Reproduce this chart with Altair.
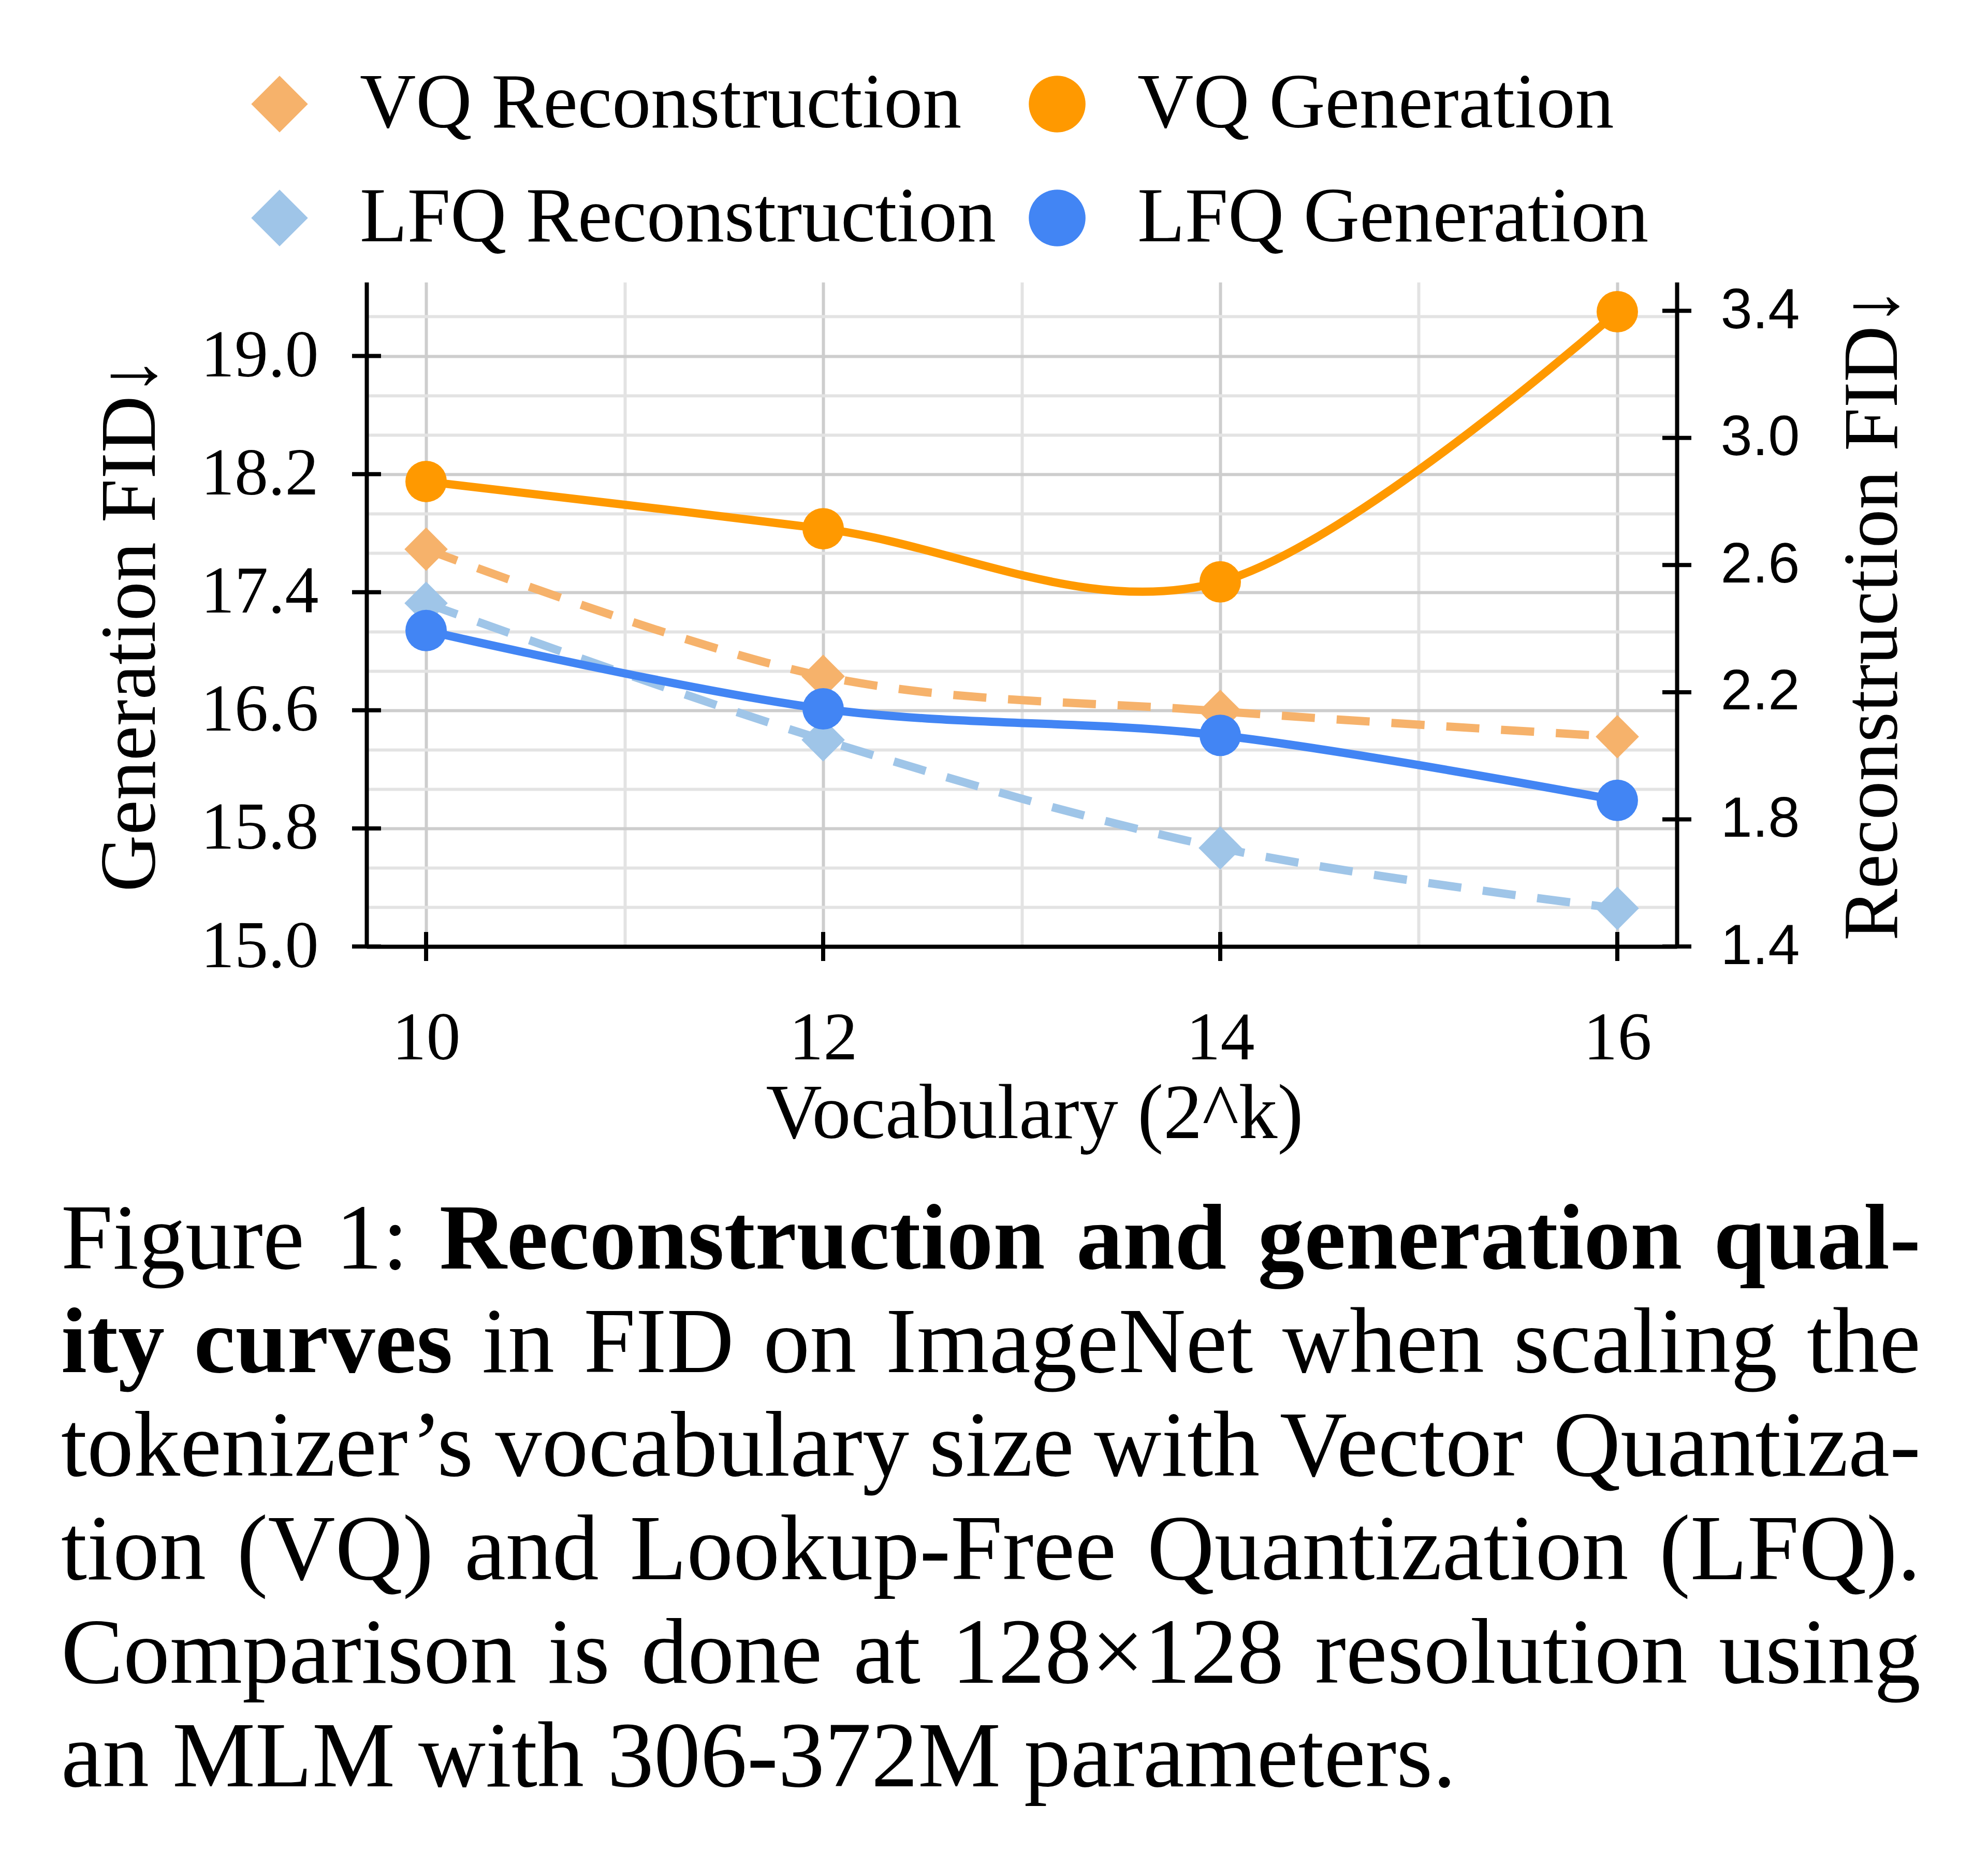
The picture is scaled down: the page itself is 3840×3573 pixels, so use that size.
import altair as alt
import pandas as pd

# ---------------- data ----------------
vocab_k = [10, 12, 14, 16]
vq_generation = [18.15, 17.83, 17.47, 19.30]
lfq_generation = [17.14, 16.61, 16.43, 15.99]
vq_reconstruction = [2.65, 2.25, 2.14, 2.06]
lfq_reconstruction = [2.48, 2.05, 1.71, 1.52]

# legend is filled column by column: first column = reconstruction entries
series_names = ["VQ Reconstruction", "LFQ Reconstruction", "VQ Generation", "LFQ Generation"]
series_colors = ["#F6B26B", "#9FC5E8", "#FF9900", "#4285F4"]
series_shapes = ["diamond", "diamond", "circle", "circle"]

x_tick_values = [10, 12, 14, 16]
x_grid_values = [10, 11, 12, 13, 14, 15, 16]
gen_tick_values = [15.0, 15.8, 16.6, 17.4, 18.2, 19.0]
gen_grid_values = [15.0, 15.267, 15.533, 15.8, 16.067, 16.333, 16.6, 16.867, 17.133,
                   17.4, 17.667, 17.933, 18.2, 18.467, 18.733, 19.0, 19.267]
rec_tick_values = [1.4, 1.8, 2.2, 2.6, 3.0, 3.4]

# caption: each line is a list of (words, weight); last line is not justified
caption_lines = [
    [("Figure 1:", "normal"), ("Reconstruction and generation qual-", "bold")],
    [("ity curves", "bold"), ("in FID on ImageNet when scaling the", "normal")],
    [("tokenizer\u2019s vocabulary size with Vector Quantiza-", "normal")],
    [("tion (VQ) and Lookup-Free Quantization (LFQ).", "normal")],
    [("Comparison is done at 128\u00d7128 resolution using", "normal")],
    [("an MLM with 306-372M parameters.", "normal")],
]

# ---------------- layout / style ----------------
SERIF = "Liberation Serif"
SANS = "Liberation Sans"
W, H = 2531, 1283
color_of = dict(zip(series_names, series_colors))

gen_df = pd.DataFrame({
    "k": vocab_k * 2,
    "value": vq_generation + lfq_generation,
    "series": ["VQ Generation"] * 4 + ["LFQ Generation"] * 4,
})
rec_df = pd.DataFrame({
    "k": vocab_k * 2,
    "value": vq_reconstruction + lfq_reconstruction,
    "series": ["VQ Reconstruction"] * 4 + ["LFQ Reconstruction"] * 4,
})

x_scale = alt.Scale(domain=[9.7, 16.3], nice=False, zero=False)
gen_scale = alt.Scale(domain=[15.0, 19.5], nice=False, zero=False)
rec_scale = alt.Scale(domain=[1.4, 3.49], nice=False, zero=False)
color_scale = alt.Scale(domain=series_names, range=series_colors)
shape_scale = alt.Scale(domain=series_names, range=series_shapes)

x_major_test = f"indexof({x_tick_values}, datum.value) >= 0"
gen_major_test = f"indexof({gen_tick_values}, datum.value) >= 0"

x_axis = alt.Axis(
    values=x_grid_values,
    labelExpr=f"{x_major_test} ? datum.label : ''",
    grid=True,
    gridColor=alt.condition(x_major_test, alt.value("#CDCDCD"), alt.value("#E3E3E3")),
    gridWidth=6,
    domainColor="black", domainWidth=8,
    ticks=True, tickSize=0,
    labelFont=SERIF, labelFontSize=132, labelColor="black", labelPadding=113,
    labelOverlap=False, labelFlush=False, labelLimit=0,
    title="Vocabulary (2^k)", titleFont=SERIF, titleFontSize=150,
    titleFontWeight="normal", titleColor="black",
    titleX=1290, titleY=250, titleBaseline="top", titleAlign="center",
)

gen_axis = alt.Axis(
    orient="left",
    values=gen_grid_values,
    labelExpr=f"{gen_major_test} ? format(datum.value, '.1f') : ''",
    grid=True,
    gridColor=alt.condition(gen_major_test, alt.value("#CDCDCD"), alt.value("#E3E3E3")),
    gridWidth=6,
    domainColor="black", domainWidth=8,
    ticks=True, tickSize=0,
    labelFont=SERIF, labelFontSize=130, labelColor="black", labelPadding=93,
    labelOverlap=False, labelFlush=False, labelLimit=0,
    title="Generation FID\u2193", titleFont=SERIF, titleFontSize=152,
    titleFontWeight="normal", titleColor="black",
    titleAngle=270, titleBaseline="bottom", titleAlign="center",
    titleX=-378, titleY=660,
)

rec_axis = alt.Axis(
    orient="right",
    values=rec_tick_values,
    format=".1f",
    grid=False,
    domainColor="black", domainWidth=8,
    ticks=True, tickSize=0,
    labelFont=SANS, labelFontSize=110, labelColor="black", labelPadding=84,
    labelOverlap=False, labelFlush=False, labelLimit=0,
    title="Reconstruction FID\u2193", titleFont=SERIF, titleFontSize=150,
    titleFontWeight="normal", titleColor="black",
    titleAngle=270, titleBaseline="top", titleAlign="center",
    titleX=305, titleY=640,
)

X_ENC = alt.X("k:Q", scale=x_scale, axis=x_axis, title="Vocabulary (2^k)")
Y_REC = alt.Y("value:Q", scale=rec_scale, axis=rec_axis, title="Reconstruction FID\u2193")
Y_GEN = alt.Y("value:Q", scale=gen_scale, axis=gen_axis, title="Generation FID\u2193")

# ---------------- right-axis group (reconstruction) ----------------
rec_lines = [
    alt.Chart(rec_df[rec_df["series"] == name]).mark_line(
        color=color_of[name], strokeWidth=16, strokeDash=[64, 42],
        interpolate="cardinal", tension=0,
    ).encode(x=X_ENC, y=Y_REC)
    for name in ["VQ Reconstruction", "LFQ Reconstruction"]
]
rec_points = alt.Chart(rec_df).mark_point(filled=True, size=7000, opacity=1).encode(
    x=X_ENC,
    y=Y_REC,
    color=alt.Color("series:N", scale=color_scale, title=None),
    shape=alt.Shape("series:N", scale=shape_scale, title=None),
)
right_ticks = alt.Chart(pd.DataFrame({"value": rec_tick_values})).mark_tick(
    color="black", size=56, thickness=8, opacity=1
).encode(y=Y_REC, x=alt.value(W))
rec_group = alt.layer(*rec_lines, rec_points, right_ticks)

# ---------------- left-axis group (generation) ----------------
gen_lines = [
    alt.Chart(gen_df[gen_df["series"] == name]).mark_line(
        color=color_of[name], strokeWidth=16, interpolate="cardinal", tension=0,
    ).encode(x=X_ENC, y=Y_GEN)
    for name in ["VQ Generation", "LFQ Generation"]
]
gen_points = alt.Chart(gen_df).mark_point(filled=True, size=6400, opacity=1).encode(
    x=X_ENC,
    y=Y_GEN,
    color=alt.Color("series:N", scale=color_scale, title=None),
    shape=alt.Shape("series:N", scale=shape_scale, title=None),
)
left_ticks = alt.Chart(pd.DataFrame({"value": gen_tick_values})).mark_tick(
    color="black", size=56, thickness=8, opacity=1
).encode(y=Y_GEN, x=alt.value(0))
gen_group = alt.layer(*gen_lines, gen_points, left_ticks)

bottom_ticks = alt.Chart(pd.DataFrame({"k": x_tick_values})).mark_tick(
    color="black", size=56, thickness=8, opacity=1
).encode(x=X_ENC, y=alt.value(H))

# ---------------- caption (justified, word by word) ----------------
ROMAN = {" ": 250, "a": 444, "b": 500, "c": 444, "d": 500, "e": 444, "f": 333, "g": 500,
         "h": 500, "i": 278, "j": 278, "k": 500, "l": 278, "m": 778, "n": 500, "o": 500,
         "p": 500, "q": 500, "r": 333, "s": 389, "t": 278, "u": 500, "v": 500, "w": 722,
         "x": 500, "y": 500, "z": 444, "A": 722, "B": 667, "C": 667, "D": 722, "E": 611,
         "F": 556, "G": 722, "I": 333, "L": 611, "M": 889, "N": 722, "Q": 722, "R": 667,
         "V": 722, ":": 278, "-": 333, "\u2019": 333, "(": 333, ")": 333, ".": 250,
         "\u00d7": 564}
BOLD = {"a": 500, "b": 556, "c": 444, "d": 556, "e": 444, "g": 500, "i": 278, "l": 278,
        "n": 556, "o": 500, "q": 556, "r": 444, "s": 389, "t": 333, "u": 556, "v": 500,
        "y": 500, "R": 722, "-": 333}
CAP_FS = 180
CAP_LEFT, CAP_RIGHT = -590, 3002
CAP_Y0, CAP_STEP = 1905, 200


def word_width(w, weight):
    table = BOLD if weight == "bold" else ROMAN
    return sum(table.get(ch, ROMAN.get(ch, 500)) for ch in w) * CAP_FS / 1000.0


caption_layers = []
for i, line in enumerate(caption_lines):
    words = [(w, weight) for seg, weight in line for w in seg.split(" ")]
    widths = [word_width(w, wt) for w, wt in words]
    last = i == len(caption_lines) - 1
    if last:
        gap = ROMAN[" "] * CAP_FS / 1000.0
    else:
        gap = (CAP_RIGHT - CAP_LEFT - sum(widths)) / (len(words) - 1)
    xpos = CAP_LEFT
    for (w, wt), ww in zip(words, widths):
        caption_layers.append(
            alt.Chart(pd.DataFrame({"t": [w]})).mark_text(
                align="left", baseline="alphabetic", font=SERIF, fontSize=CAP_FS,
                fontWeight=wt, color="black",
            ).encode(text="t:N", x=alt.value(round(xpos, 1)), y=alt.value(CAP_Y0 + CAP_STEP * i))
        )
        xpos += ww + gap

chart = alt.layer(rec_group, gen_group, bottom_ticks, *caption_layers).resolve_scale(
    y="independent"
).properties(
    width=W, height=H,
    autosize=alt.AutoSizeParams(type="none"),
    padding={"left": 700, "top": 537, "right": 593, "bottom": 1737},
    background="white",
).configure_view(stroke=None).configure_legend(
    orient="none", legendX=-243, legendY=-419,
    columns=2, columnPadding=42, rowPadding=70, padding=0,
    symbolSize=12000, symbolStrokeWidth=0, symbolOpacity=1,
    labelFont=SERIF, labelFontSize=150, labelColor="black",
    labelOffset=80, labelLimit=0, titlePadding=0,
)

chart.save("out.html", embed_options={"renderer": "svg", "actions": False})
